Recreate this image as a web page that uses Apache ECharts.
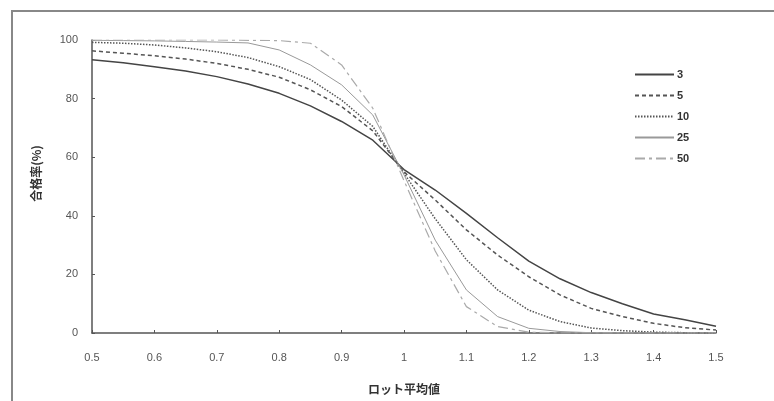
<!DOCTYPE html>
<html>
<head>
<meta charset="utf-8">
<title>合格率</title>
<script src="https://cdn.jsdelivr.net/npm/echarts@6/dist/echarts.min.js"></script>
<style>
    html, body { margin: 0; padding: 0; background: #fff; }
    #chart { width: 774px; height: 401px; }
</style>
</head>
<body>
<div id="chart"></div>
<script>
// ロット平均値
const lotMeans = [0.5, 0.55, 0.6, 0.65, 0.7, 0.75, 0.8, 0.85, 0.9, 0.95, 1.0,
    1.05, 1.1, 1.15, 1.2, 1.25, 1.3, 1.35, 1.4, 1.45, 1.5];

// 合格率(%) サンプル数ごと
const rate3 = [93.3, 92.2, 90.9, 89.4, 87.5, 85.0, 81.8, 77.5, 72.2, 65.8, 55.8,
    48.8, 40.8, 32.5, 24.5, 18.5, 13.8, 10.0, 6.5, 4.5, 2.3];
const rate5 = [96.3, 95.5, 94.6, 93.5, 92.0, 90.0, 87.3, 83.0, 77.3, 69.0, 55.0,
    45.4, 35.2, 26.6, 19.2, 13.0, 8.4, 5.6, 3.3, 1.8, 1.0];
const rate10 = [99.2, 98.9, 98.3, 97.3, 96.0, 94.0, 90.9, 86.5, 79.5, 70.5, 54.5,
    39.0, 25.0, 14.7, 7.8, 3.9, 1.7, 0.8, 0.3, 0.1, 0.0];
const rate25 = [99.9, 99.8, 99.7, 99.5, 99.3, 99.0, 96.6, 91.5, 84.7, 74.4, 54.0,
    31.7, 14.7, 5.6, 1.6, 0.5, 0.1, 0.0, 0.0, 0.0, 0.0];
const rate50 = [100, 100, 100, 100, 100, 99.9, 99.8, 98.9, 91.5, 76.7, 52.0,
    28.0, 9.0, 2.2, 0.3, 0.0, 0.0, 0.0, 0.0, 0.0, 0.0];

const seriesNames = ['3', '5', '10', '25', '50'];
const yTicks = [0, 20, 40, 60, 80, 100];

const chart = echarts.init(document.getElementById('chart'));

function makeSeries(name, values, lineStyle) {
    return {
        name: name,
        type: 'line',
        showSymbol: false,
        symbol: 'none',
        smooth: false,
        data: lotMeans.map((x, i) => [x, values[i]]),
        lineStyle: lineStyle,
        itemStyle: { color: lineStyle.color }
    };
}

const option = {
    animation: false,
    backgroundColor: '#fff',
    textStyle: { fontFamily: 'Arial, "Liberation Sans", "Noto Sans CJK JP", sans-serif' },
    graphic: [{
        type: 'rect',
        shape: { x: 12, y: 11, width: 800, height: 420 },
        style: { fill: 'none', stroke: '#888', lineWidth: 2 },
        silent: true
    }],
    grid: { left: 92, top: 40, right: 58, bottom: 68 },
    legend: {
        orient: 'vertical',
        left: 629,
        top: 64,
        itemWidth: 39,
        itemHeight: 12,
        itemGap: 10,
        data: seriesNames,
        itemStyle: { opacity: 0 },
        textStyle: { fontSize: 11, color: '#333', fontWeight: 'bold', padding: [0, 0, 0, -2] }
    },
    xAxis: {
        type: 'value',
        min: 0.5,
        max: 1.5,
        interval: 0.1,
        name: 'ロット平均値',
        nameLocation: 'middle',
        nameGap: 50,
        nameTextStyle: {
            fontFamily: '"Noto Sans CJK JP", sans-serif',
            fontSize: 12, fontWeight: 'bold', color: '#333'
        },
        axisLine: { lineStyle: { color: '#555', width: 1.5 } },
        axisTick: { show: true, inside: true, length: 3, lineStyle: { color: '#555' } },
        axisLabel: { fontSize: 11, color: '#555', margin: 19 },
        splitLine: { show: false }
    },
    yAxis: {
        type: 'value',
        min: yTicks[0],
        max: yTicks[yTicks.length - 1],
        interval: 20,
        name: '合格率(%)',
        nameLocation: 'middle',
        nameGap: 50,
        nameTextStyle: {
            fontFamily: '"Noto Sans CJK JP", sans-serif',
            fontSize: 12, fontWeight: 'bold', color: '#333',
            padding: [0, 0, 0, 26]
        },
        axisLine: { show: true, lineStyle: { color: '#555', width: 1.5 } },
        axisTick: { show: true, inside: true, length: 3, lineStyle: { color: '#555' } },
        axisLabel: { fontSize: 11, color: '#555', margin: 14 },
        splitLine: { show: false }
    },
    series: [
        makeSeries('3', rate3, { color: '#444', width: 1.5, type: 'solid' }),
        makeSeries('5', rate5, { color: '#555', width: 1.5, type: [4, 3] }),
        makeSeries('10', rate10, { color: '#555', width: 1.5, type: [1.5, 1.5] }),
        makeSeries('25', rate25, { color: '#999', width: 1, type: 'solid' }),
        makeSeries('50', rate50, { color: '#aaa', width: 1.2, type: [10, 4, 3, 4] })
    ]
};

chart.setOption(option);
</script>
</body>
</html>
